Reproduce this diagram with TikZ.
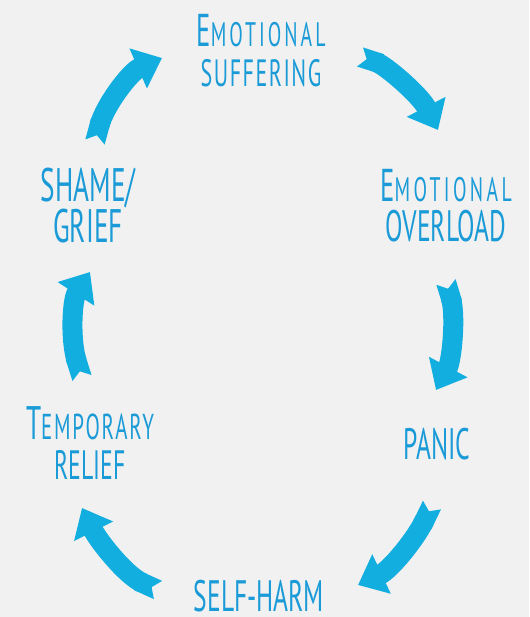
\documentclass[tikz,border=0pt]{standalone}
\usepackage{fontspec}
\setmainfont[FakeStretch=0.58]{PT Sans}
\usetikzlibrary{arrows.meta}
\definecolor{txtblue}{HTML}{1A9BD7}
\definecolor{arrblue}{HTML}{12AEE0}
\definecolor{bggrey}{HTML}{F1F1F1}
\newcommand{\lsz}[1]{\fontsize{#1}{40}\selectfont}
\newcommand{\trk}[1]{\addfontfeatures{LetterSpace=#1}}
\tikzset{
  lbl/.style={text=txtblue, align=center, inner sep=0pt, font=\lsz{44}},
  cyc/.style={draw=arrblue, line width=20pt, {Triangle Cap[reversed,length=7pt]}-{Triangle[width=42pt,length=26pt]}}
}

\begin{document}
\begin{tikzpicture}[x=1pt,y=-1pt]
\useasboundingbox (0,0) rectangle (529,617);
\fill[bggrey] (0,0) rectangle (529,617);
\node[lbl] (suffer) at (261,51) {{\lsz{46}E}{\lsz{34}\trk{9}MOTIONAL}\\{\lsz{38}\trk{4}SUFFERING}};
\node[lbl] (overload) at (446,206) {{\lsz{46}E}{\lsz{34}\trk{10}MOTIONAL}\\OVERLOAD};
\node[lbl] (panic) at (437,444) {PANIC};
\node[lbl] (selfharm) at (259,596) {SELF-HARM};
\node[lbl] (relief) at (90,443) {{\lsz{47}T}{\lsz{36}\trk{5}EMPORARY}\\{\lsz{41}RELIEF}};
\node[lbl] (shame) at (88,206) {{\lsz{47}SHAME/}\\{\lsz{47}GRIEF}};
\coordinate (a1s) at (360,57);  \coordinate (a1e) at (438,130);
\coordinate (a2s) at (446,282); \coordinate (a2e) at (436,390);
\coordinate (a3s) at (432,505); \coordinate (a3e) at (358,585);
\coordinate (a4s) at (158,590); \coordinate (a4e) at (82,508);
\coordinate (a5s) at (82,378);  \coordinate (a5e) at (90,272);
\coordinate (a6s) at (95,142);  \coordinate (a6e) at (162,58);
\draw[cyc] (a1s) .. controls (385,65) and (420,95) .. (a1e);
\draw[cyc] (a2s) .. controls (456,315) and (452,360) .. (a2e);
\draw[cyc] (a3s) .. controls (415,540) and (390,570) .. (a3e);
\draw[cyc] (a4s) .. controls (125,575) and (98,540) .. (a4e);
\draw[cyc] (a5s) .. controls (70,340) and (72,300) .. (a5e);
\draw[cyc] (a6s) .. controls (105,105) and (130,72) .. (a6e);
\end{tikzpicture}
\end{document}
